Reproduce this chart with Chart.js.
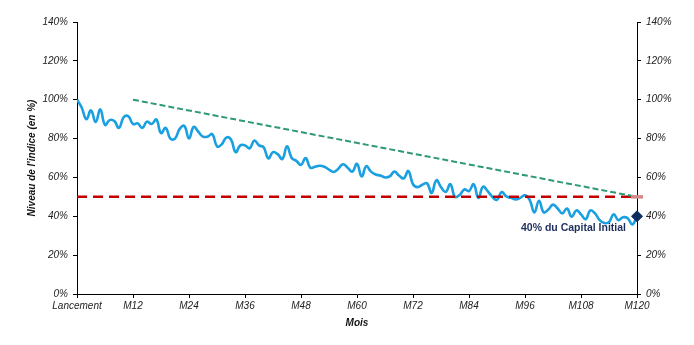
<!DOCTYPE html>
<html>
<head>
<meta charset="utf-8">
<script src="https://cdn.jsdelivr.net/npm/chart.js@4"></script>
<style>
  html, body { margin: 0; padding: 0; background: #fff; }
  #wrap { width: 694px; height: 345px; }
</style>
</head>
<body>
<div id="wrap"><canvas id="chart"></canvas></div>
<script>
// x axis tick labels, one every 12 months
const xLabels = ["Lancement", "M12", "M24", "M36", "M48", "M60", "M72", "M84", "M96", "M108", "M120"];

// index level (%), month 0 .. month 120
const indexLevel = [
  100, 96, 90, 94.5, 88.5, 95, 87, 89.5, 89, 85.5,
  91, 91.5, 87.5, 87.8, 85.5, 88.7, 87.5, 89.8, 82.8, 85.5,
  80, 80, 85, 86.5, 80, 86, 83.5, 81, 81, 82.3,
  76, 77, 80.5, 79.5, 73, 76.5, 76.5, 75, 79, 76.5,
  75.5, 69.8, 73, 72, 69.5, 76, 70, 68.5, 66.5, 70,
  65, 65.5, 66, 65.5, 64, 62.8, 64.5, 66.8, 65, 63,
  67, 60.5, 65.8, 63, 61.5, 61, 60, 60.5, 63, 61,
  59.5, 63.3, 56.5, 55, 56.2, 57, 52, 58.5, 55, 52.5,
  56.5, 50, 51, 53.8, 53, 56.5, 49.5, 55.2, 53, 50,
  48.5, 52.5, 50.2, 49.5, 48.7, 49.5, 50.8, 48.5, 42, 48,
  42, 43.5, 46, 44, 41.5, 44, 39.8, 43, 41, 38.5,
  43, 41.5, 38, 36.5, 37, 41, 38, 39.5, 39, 35.8,
  40
];

// green dashed trend: from M12 at 100% to M120 at 50%
const trendMonths = [12, 120];
const trendValues = [100, 50];

// red barrier at 50%
const barrierLevel = 50;

// final point
const finalMonth = 120;
const finalValue = 40;
const finalLabel = "40% du Capital Initial";

const labelPlugin = {
  id: "finalLabel",
  afterDatasetsDraw(chart) {
    const { ctx, scales } = chart;
    const x = scales.x.getPixelForValue(finalMonth);
    const y = scales.y.getPixelForValue(finalValue);
    ctx.save();
    ctx.font = "bold 10.5px 'Liberation Sans', Arial, sans-serif";
    ctx.fillStyle = "#1d2d5c";
    ctx.textAlign = "right";
    ctx.textBaseline = "middle";
    ctx.fillText(finalLabel, x - 11, y + 12);
    ctx.restore();
  }
};

const tickFont = { family: "'Liberation Sans', Arial, sans-serif", size: 10, style: "italic" };
const titleFont = { family: "'Liberation Sans', Arial, sans-serif", size: 10, style: "italic", weight: "bold" };

new Chart(document.getElementById("chart"), {
  type: "line",
  data: {
    datasets: [
      {
        label: "Indice",
        data: indexLevel.map((v, i) => ({ x: i, y: v })),
        borderColor: "#1a9fe0",
        borderWidth: 2.6,
        pointRadius: 0,
        tension: 0.45,
        order: 3
      },
      {
        label: "Tendance",
        data: trendMonths.map((m, i) => ({ x: m, y: trendValues[i] })),
        borderColor: "#2e9a72",
        borderWidth: 2,
        borderDash: [6, 3],
        pointRadius: 0,
        order: 2
      },
      {
        label: "Barriere",
        data: [{ x: 0, y: barrierLevel }, { x: finalMonth, y: barrierLevel }],
        borderColor: "#c00000",
        borderWidth: 2.5,
        borderDash: [10, 6],
        pointRadius: 0,
        order: 2
      },
      {
        label: "Barriere fin",
        data: [{ x: finalMonth, y: barrierLevel }],
        showLine: false,
        pointStyle: "line",
        pointRadius: 6,
        borderColor: "#d48a8a",
        borderWidth: 3.5,
        clip: false,
        order: 1
      },
      {
        label: "Final",
        data: [{ x: finalMonth, y: finalValue }],
        showLine: false,
        pointStyle: "rectRot",
        pointRadius: 5.5,
        backgroundColor: "#0b2d5e",
        borderColor: "#0b2d5e",
        borderWidth: 1,
        clip: false,
        order: 0
      }
    ]
  },
  options: {
    responsive: true,
    maintainAspectRatio: false,
    animation: false,
    layout: { padding: { top: 22, left: 0, right: 0, bottom: 0 } },
    plugins: { legend: { display: false }, tooltip: { enabled: false } },
    scales: {
      x: {
        type: "linear",
        min: 0,
        max: 120,
        afterFit: s => { s.height = 51; },
        ticks: {
          stepSize: 12,
          autoSkip: false,
          maxRotation: 0,
          padding: 2,
          color: "#222",
          font: tickFont,
          callback: v => xLabels[v / 12]
        },
        grid: { drawOnChartArea: false, color: "#000", tickLength: 4 },
        border: { color: "#000", width: 1 },
        title: { display: true, text: "Mois", color: "#111", font: titleFont, padding: { top: 0, bottom: 16 } }
      },
      y: {
        position: "left",
        min: 0,
        max: 140,
        afterFit: s => { s.width = 77; },
        ticks: { stepSize: 20, padding: 5, color: "#222", font: tickFont, callback: v => v + "%" },
        grid: { drawOnChartArea: false, color: "#000", tickLength: 4 },
        border: { color: "#000", width: 1 },
        title: { display: true, text: "Niveau de l'indice (en %)", color: "#111", font: titleFont, padding: { top: 26, bottom: 0 } }
      },
      y1: {
        position: "right",
        min: 0,
        max: 140,
        afterFit: s => { s.width = 57; },
        ticks: { stepSize: 20, padding: 5, color: "#222", font: tickFont, callback: v => v + "%" },
        grid: { drawOnChartArea: false, color: "#000", tickLength: 4 },
        border: { color: "#000", width: 1 }
      }
    }
  },
  plugins: [labelPlugin]
});
</script>
</body>
</html>
